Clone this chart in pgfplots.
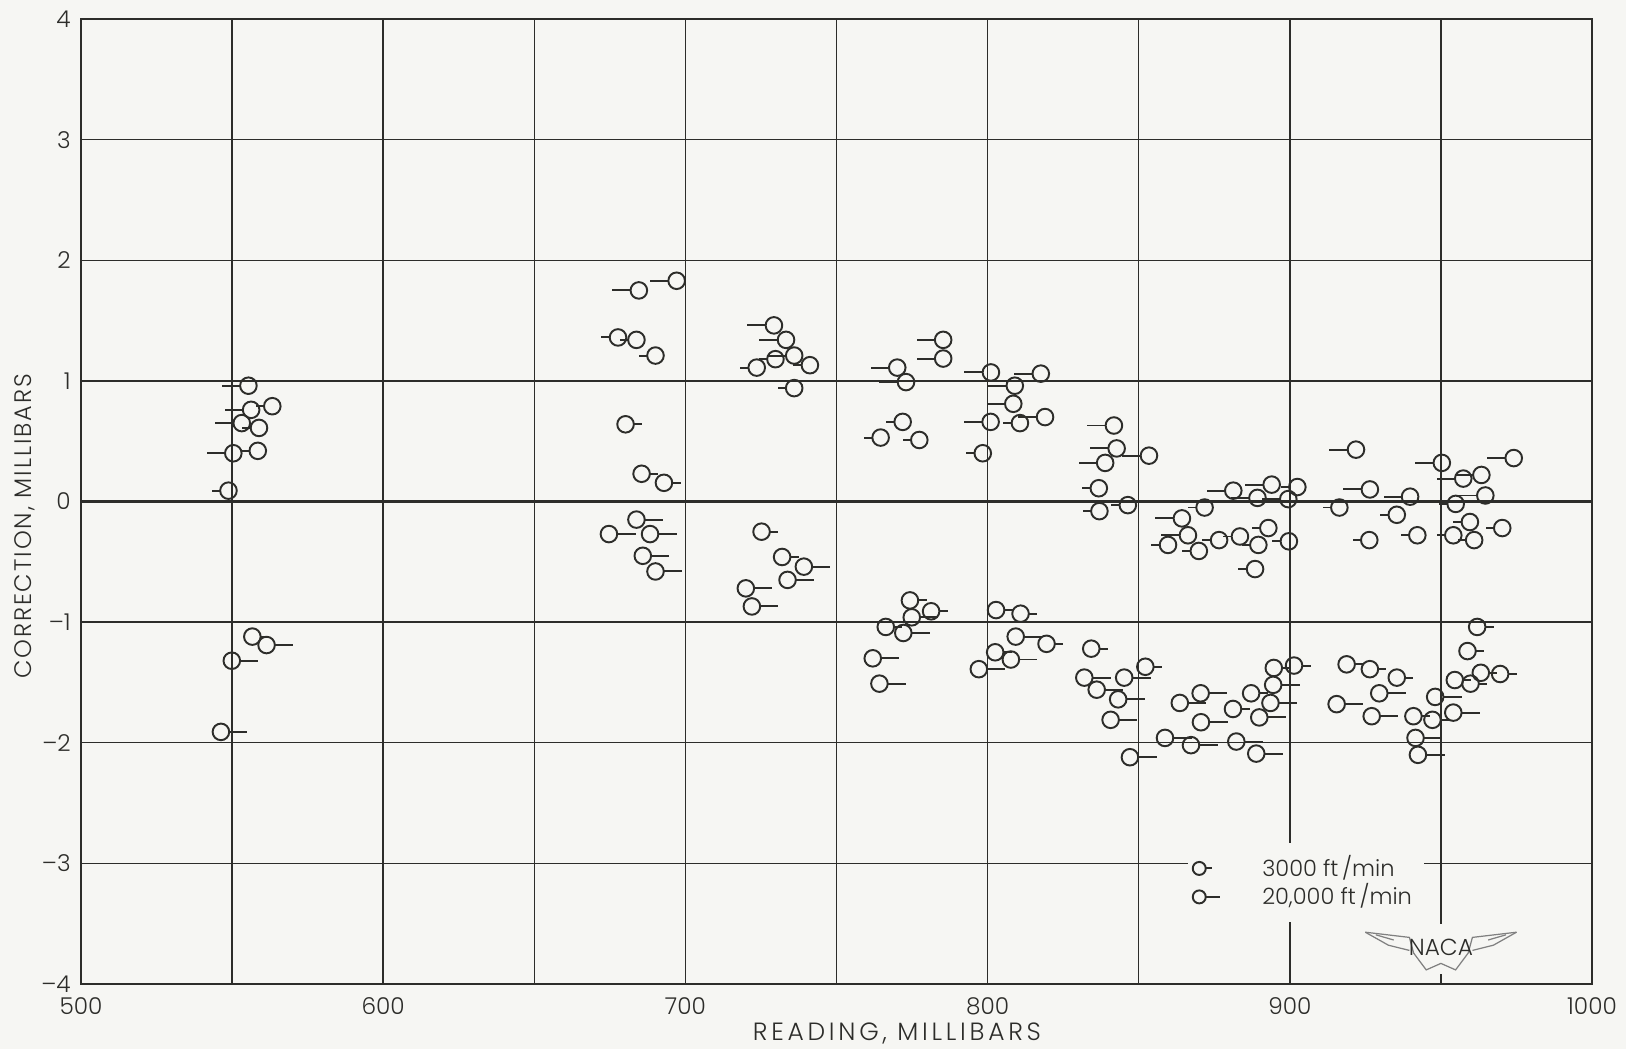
\documentclass[border=0pt]{standalone}
\usepackage{fontspec}
\setmainfont{Poppins}[UprightFont={* Light}]
\usepackage{pgfplots}
\pgfplotsset{compat=1.18}
\usepackage{pgfplotstable}
\definecolor{bgc}{RGB}{246,246,243}
\definecolor{ink}{RGB}{45,45,42}

% circle with a short / long flag to the left / right
\pgfdeclareplotmark{SL}{%
  \pgfpathmoveto{\pgfqpoint{-\pgfplotmarksize}{0pt}}%
  \pgfpathlineto{\pgfqpoint{-2.0\pgfplotmarksize}{0pt}}\pgfusepathqstroke
  \pgfpathcircle{\pgfpointorigin}{\pgfplotmarksize}\pgfusepathqstroke}
\pgfdeclareplotmark{SR}{%
  \pgfpathmoveto{\pgfqpoint{\pgfplotmarksize}{0pt}}%
  \pgfpathlineto{\pgfqpoint{2.0\pgfplotmarksize}{0pt}}\pgfusepathqstroke
  \pgfpathcircle{\pgfpointorigin}{\pgfplotmarksize}\pgfusepathqstroke}
\pgfdeclareplotmark{LL}{%
  \pgfpathmoveto{\pgfqpoint{-\pgfplotmarksize}{0pt}}%
  \pgfpathlineto{\pgfqpoint{-3.2\pgfplotmarksize}{0pt}}\pgfusepathqstroke
  \pgfpathcircle{\pgfpointorigin}{\pgfplotmarksize}\pgfusepathqstroke}
\pgfdeclareplotmark{LR}{%
  \pgfpathmoveto{\pgfqpoint{\pgfplotmarksize}{0pt}}%
  \pgfpathlineto{\pgfqpoint{3.2\pgfplotmarksize}{0pt}}\pgfusepathqstroke
  \pgfpathcircle{\pgfpointorigin}{\pgfplotmarksize}\pgfusepathqstroke}

% 3000 ft/min, flag right
\pgfplotstableread{
x y
556.7 -1.12
725.2 -0.25
732.0 -0.46
680.2 0.64
685.5 0.23
692.9 0.155
774.3 -0.82
781.3 -0.91
766.3 -1.04
802.8 -0.90
810.9 -0.93
819.5 -1.18
802.5 -1.25
834.3 -1.22
852.2 -1.37
881.2 -1.72
887.2 -1.59
894.7 -1.38
901.4 -1.36
962.0 -1.04
958.8 -1.24
918.8 -1.35
926.5 -1.39
935.4 -1.46
940.9 -1.78
947.2 -1.81
954.6 -1.48
959.8 -1.51
963.2 -1.42
969.6 -1.43
}\srdata
% 3000 ft/min, flag left
\pgfplotstableread{
x y
563.3 0.79
558.9 0.61
558.5 0.42
548.8 0.09
677.7 1.36
683.8 1.34
690.1 1.21
729.8 1.18
723.6 1.11
736.0 0.94
741.2 1.13
771.9 0.66
764.6 0.53
777.4 0.51
810.7 0.65
798.4 0.40
836.8 0.11
837.0 -0.08
846.4 -0.03
871.8 -0.05
859.7 -0.36
869.9 -0.41
876.6 -0.32
883.5 -0.29
892.9 -0.22
889.6 -0.36
888.5 -0.56
899.7 -0.33
902.5 0.12
916.4 -0.05
935.4 -0.11
926.3 -0.32
942.2 -0.28
954.9 -0.02
959.6 -0.17
954.1 -0.28
961.0 -0.32
970.3 -0.22
}\sldata
% 20,000 ft/min, flag right
\pgfplotstableread{
x y
561.4 -1.19
549.9 -1.32
546.3 -1.91
683.8 -0.15
674.7 -0.27
688.3 -0.27
685.9 -0.45
690.1 -0.58
739.2 -0.54
733.8 -0.65
720.0 -0.72
722.0 -0.87
774.9 -0.96
772.1 -1.09
762.0 -1.30
764.2 -1.51
809.3 -1.12
807.7 -1.31
797.1 -1.39
832.0 -1.46
845.2 -1.46
836.1 -1.56
843.2 -1.64
840.7 -1.81
858.7 -1.96
867.3 -2.02
847.1 -2.12
870.5 -1.59
863.6 -1.67
870.6 -1.83
882.3 -1.99
888.9 -2.09
894.5 -1.52
893.6 -1.67
889.9 -1.79
929.6 -1.59
915.5 -1.68
927.1 -1.78
948.1 -1.62
954.1 -1.75
941.6 -1.96
942.4 -2.10
}\lrdata
% 20,000 ft/min, flag left
\pgfplotstableread{
x y
555.4 0.96
556.3 0.76
553.2 0.65
550.4 0.40
697.1 1.83
684.6 1.75
729.3 1.46
733.3 1.34
736.0 1.21
785.3 1.34
785.3 1.185
770.1 1.11
773.0 0.99
801.1 1.07
809.0 0.96
817.6 1.06
808.5 0.81
819.0 0.70
801.0 0.66
841.8 0.63
842.7 0.44
838.9 0.32
853.4 0.38
864.3 -0.14
866.3 -0.28
881.3 0.09
889.3 0.03
894.0 0.14
899.5 0.02
921.9 0.43
926.5 0.10
939.8 0.04
950.3 0.32
957.4 0.19
963.4 0.22
974.1 0.36
964.7 0.05
}\lldata

\begin{document}
\begin{tikzpicture}
\fill[bgc] (-0.81cm,-0.65cm) rectangle (15.45cm,9.84cm);
\useasboundingbox (-0.81cm,-0.65cm) rectangle (15.45cm,9.84cm);
\begin{axis}[
  width=15.11cm, height=9.65cm, scale only axis,
  xmin=500, xmax=1000, ymin=-4, ymax=4,
  xtick={500,600,...,1000},
  minor xtick={550,650,...,950},
  ytick={-4,-3,...,4},
  yticklabels={–4,–3,–2,–1,0,1,2,3,4},
  extra y ticks={0}, extra y tick labels={},
  extra y tick style={grid style={line width=1.0pt, ink}},
  major tick length=0pt, minor tick length=0pt,
  grid=both,
  grid style={line width=0.4pt, ink},
  minor grid style={line width=0.4pt, ink},
  axis line style={line width=0.5pt, ink},
  /pgf/number format/assume math mode=true,
  /pgf/number format/1000 sep={},
  ticklabel style={font=\fontsize{6.6}{7}\selectfont, text=ink},
  xticklabel style={yshift=-0.01cm},
  yticklabel style={xshift=0.02cm},
  xlabel={READING, MILLIBARS},
  ylabel={CORRECTION, MILLIBARS},
  xlabel style={font=\fontsize{7.1}{7.5}\selectfont\addfontfeature{LetterSpace=15}, text=ink,
    at={(axis description cs:0.54,-0.0518)}, anchor=center},
  ylabel style={font=\fontsize{6.8}{7.2}\selectfont\addfontfeature{LetterSpace=8}, text=ink,
    at={(axis description cs:-0.0370,0.474)}, anchor=center, rotate=0},
  legend style={at={(axis cs:866,-3.16)}, anchor=west, draw=none, fill=bgc,
    font=\fontsize{6.4}{7}\selectfont, text=ink, row sep=-0.12cm,
    inner sep=0.05cm},
  legend image code/.code={%
    \draw[mark repeat=2,mark phase=2,mark size=0.065cm] plot coordinates {(0cm,0cm)(0.15cm,0cm)(0.3cm,0cm)};
    \path (0.70cm,0cm);},
  legend cell align=left,
  every axis plot/.append style={only marks, mark size=0.083cm, ink, line width=0.55pt},
]
\addplot[mark=SR] table {\srdata};
\addlegendentry{3000 ft\,/min}
\addplot[mark=LR] table {\lrdata};
\addlegendentry{20,000 ft\,/min}
\addplot[mark=SL, forget plot] table {\sldata};
\addplot[mark=LL, forget plot] table {\lldata};
\coordinate (logoc) at (axis cs:950,-3.70);
\end{axis}
% NACA emblem
\fill[bgc] ([xshift=-0.80cm,yshift=-0.26cm]logoc) rectangle ([xshift=0.80cm,yshift=0.24cm]logoc);
\begin{scope}[shift={(logoc)}, xscale=1.05, yscale=1.3, gray, line width=0.35pt]
  \draw (-0.72,0.12) -- (-0.30,0.08) -- (-0.26,-0.04) -- (-0.14,-0.17) -- (0,-0.12) -- (0.14,-0.17) -- (0.26,-0.04) -- (0.30,0.08) -- (0.72,0.12);
  \draw (-0.72,0.12) -- (-0.50,0.02) -- (-0.30,-0.02);
  \draw (0.72,0.12) -- (0.50,0.02) -- (0.30,-0.02);
  \draw (-0.62,0.10) -- (-0.45,0.06);
  \draw (0.62,0.10) -- (0.45,0.06);
\end{scope}
\node[text=ink, font=\fontsize{6.6}{7}\selectfont] at (logoc) {NACA};
\end{tikzpicture}
\end{document}
